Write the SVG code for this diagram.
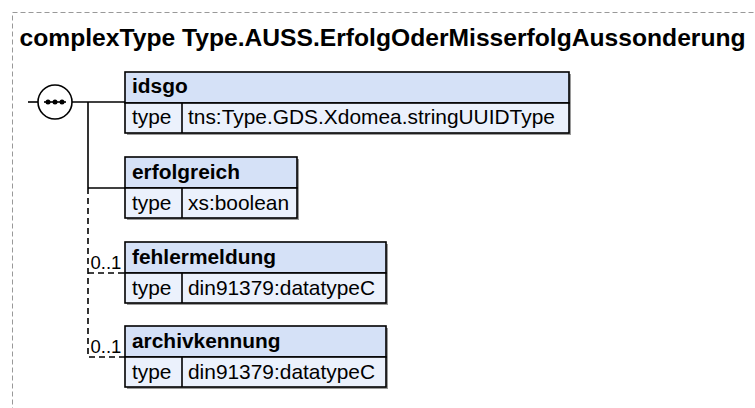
<svg xmlns="http://www.w3.org/2000/svg" width="755" height="408" viewBox="0 0 755 408">
<style>
.frame{fill:none;stroke:#999;stroke-width:1;stroke-dasharray:5,3}
.title{font-family:"Liberation Sans",Arial,sans-serif;font-weight:bold;font-size:24.65px;fill:#000}
.hdr{fill:#d5e1f7;stroke:#000;stroke-width:1.6}
.row{fill:#ebf1fc;stroke:#000;stroke-width:1.6}
.shadow{fill:#9a9a9a}
.name{font-family:"Liberation Sans",Arial,sans-serif;font-weight:bold;font-size:20.9px;fill:#000}
.val{font-family:"Liberation Sans",Arial,sans-serif;font-size:20.9px;fill:#000}
.card{font-family:"Liberation Sans",Arial,sans-serif;font-size:18.5px;fill:#000}
.ln{fill:none;stroke:#000;stroke-width:1.6}
.dash{fill:none;stroke:#000;stroke-width:1.6;stroke-dasharray:6,4}
</style>
<rect class="frame" x="12.5" y="12.5" width="760" height="420"/>
<text class="title" x="19.5" y="46">complexType Type.AUSS.ErfolgOderMisserfolgAussonderung</text>

<g id="connectors">
<line class="ln" x1="28" y1="102" x2="38" y2="102"/>
<line class="ln" x1="72" y1="102" x2="125" y2="102"/>
<line class="ln" x1="88" y1="102" x2="88" y2="188"/>
<line class="ln" x1="88" y1="188" x2="125" y2="188"/>
<path class="dash" d="M88,188 V357 H125"/>
<line class="dash" x1="88" y1="273" x2="125" y2="273"/>
<text class="card" x="90.5" y="269">0..1</text>
<text class="card" x="90.5" y="353">0..1</text>
</g>

<g id="sequence">
<circle cx="55" cy="102" r="17" fill="#fff" stroke="#000" stroke-width="1.6"/>
<line x1="44" y1="102" x2="66" y2="102" stroke="#000" stroke-width="1.6"/>
<circle cx="48" cy="102" r="2.5" fill="#000"/>
<circle cx="55" cy="102" r="2.5" fill="#000"/>
<circle cx="62" cy="102" r="2.5" fill="#000"/>
</g>

<g id="idsgo">
<rect class="shadow" x="127" y="74" width="444" height="61"/>
<rect class="hdr" x="125" y="72" width="444" height="31"/>
<rect class="row" x="125" y="103" width="444" height="30"/>
<line class="ln" x1="182" y1="103" x2="182" y2="133"/>
<text class="name" x="132" y="93">idsgo</text>
<text class="val" x="132" y="124">type</text>
<text class="val" x="188" y="124">tns:Type.GDS.Xdomea.stringUUIDType</text>
</g>

<g id="erfolgreich">
<rect class="shadow" x="127" y="159" width="172" height="61"/>
<rect class="hdr" x="125" y="157" width="172" height="31"/>
<rect class="row" x="125" y="188" width="172" height="30"/>
<line class="ln" x1="182" y1="188" x2="182" y2="218"/>
<text class="name" x="132" y="179">erfolgreich</text>
<text class="val" x="132" y="210">type</text>
<text class="val" x="188" y="210">xs:boolean</text>
</g>

<g id="fehlermeldung">
<rect class="shadow" x="127" y="244" width="261" height="61"/>
<rect class="hdr" x="125" y="242" width="261" height="31"/>
<rect class="row" x="125" y="273" width="261" height="30"/>
<line class="ln" x1="182" y1="273" x2="182" y2="303"/>
<text class="name" x="132" y="264">fehlermeldung</text>
<text class="val" x="132" y="295">type</text>
<text class="val" x="188" y="295">din91379:datatypeC</text>
</g>

<g id="archivkennung">
<rect class="shadow" x="127" y="328" width="261" height="61"/>
<rect class="hdr" x="125" y="326" width="261" height="31"/>
<rect class="row" x="125" y="357" width="261" height="30"/>
<line class="ln" x1="182" y1="357" x2="182" y2="387"/>
<text class="name" x="132" y="348">archivkennung</text>
<text class="val" x="132" y="379">type</text>
<text class="val" x="188" y="379">din91379:datatypeC</text>
</g>
</svg>
